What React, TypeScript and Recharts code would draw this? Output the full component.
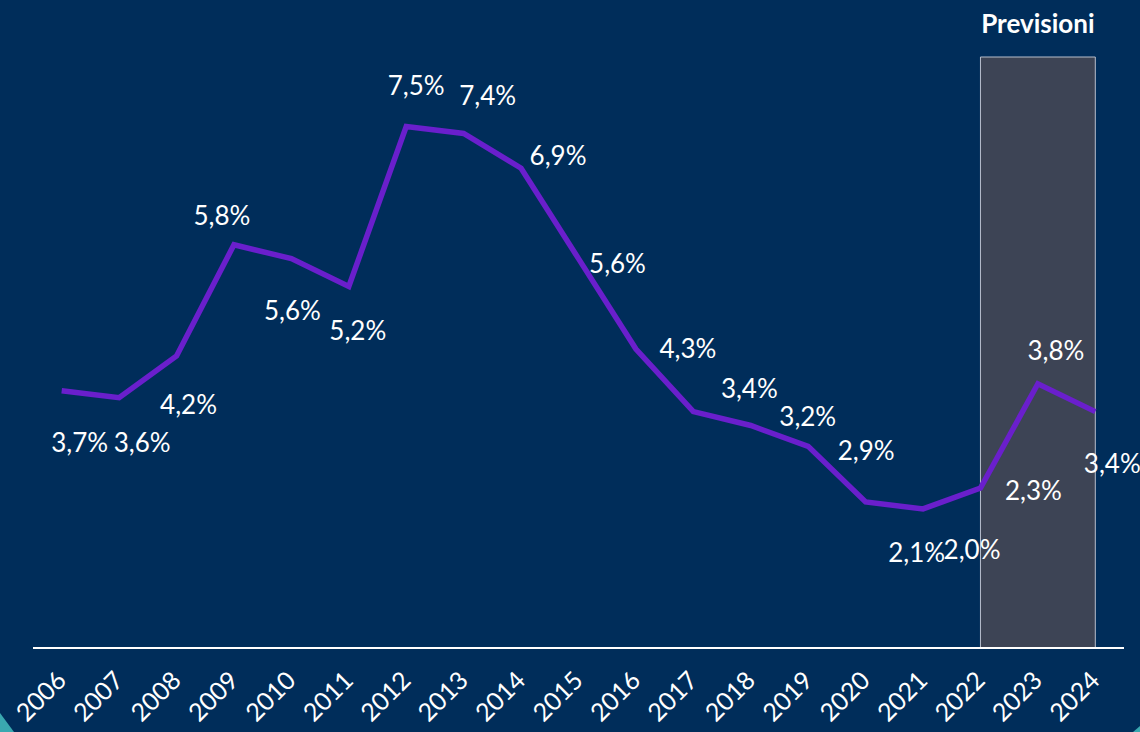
import { LineChart, Line, XAxis, YAxis, ReferenceArea, LabelList } from 'recharts';

const years = ['2006', '2007', '2008', '2009', '2010', '2011', '2012', '2013', '2014', '2015', '2016', '2017', '2018', '2019', '2020', '2021', '2022', '2023', '2024'];
const rates = [3.7, 3.6, 4.2, 5.8, 5.6, 5.2, 7.5, 7.4, 6.9, 5.6, 4.3, 3.4, 3.2, 2.9, 2.1, 2.0, 2.3, 3.8, 3.4];
const forecastStart = '2022';
const forecastEnd = '2024';
const forecastLabel = 'Previsioni';

// label placement relative to each point (dx, dy), as in the source slide
const labelOffsets: Array<[number, number]> = [
  [18, 51], [23, 44], [12, 48], [-12, -30], [1, 51], [9, 44], [10, -42], [24, -38], [37, -13], [39, 4],
  [52, -1], [56, -24], [57, -10], [58, 4], [51, 50], [49, 40], [53, 2], [18, -34], [17, 51],
];

const BG = '#002d5a';
const FONT = 'Lato, "Noto Sans", sans-serif';

const data = years.map((year, i) => ({ year, rate: rates[i] }));

const fmt = (v: number) => v.toFixed(1).replace('.', ',') + '%';

function YearTick(props: any) {
  const { x, y, payload } = props;
  const ax = x + 6;
  const ay = y + 26;
  return (
    <text
      x={ax}
      y={ay}
      transform={`rotate(-45, ${ax}, ${ay})`}
      textAnchor="end"
      fill="#ffffff"
      fontSize={25}
      fontFamily={FONT}
    >
      {payload.value}
    </text>
  );
}

function PointLabel(props: any) {
  const { x, y, value, index } = props;
  const [dx, dy] = labelOffsets[index] ?? [0, -20];
  return (
    <text
      x={x + dx}
      y={y + dy}
      textAnchor="middle"
      dominantBaseline="central"
      fill="#ffffff"
      fontSize={26}
      fontFamily={FONT}
    >
      {fmt(value)}
    </text>
  );
}

export default function App() {
  return (
    <div
      style={{
        position: 'absolute',
        left: 0,
        top: 0,
        width: 1140,
        height: 732,
        background: BG,
        overflow: 'hidden',
      }}
    >
      <LineChart width={1140} height={732} data={data} margin={{ top: 57, right: 16, left: 33, bottom: 4 }}>
        <ReferenceArea
          x1={forecastStart}
          x2={forecastEnd}
          fill="#3d4455"
          fillOpacity={1}
          stroke="#b8bfcc"
          strokeWidth={1}
          label={{
            value: forecastLabel,
            position: 'top',
            offset: 24,
            fill: '#ffffff',
            fontSize: 26,
            fontWeight: 700,
            fontFamily: FONT,
          }}
        />
        <XAxis
          dataKey="year"
          height={80}
          interval={0}
          padding={{ left: 28.7, right: 28.7 }}
          axisLine={{ stroke: '#ffffff', strokeWidth: 2 }}
          tickLine={false}
          tick={<YearTick />}
        />
        <YAxis hide domain={[0, 8.5]} />
        <Line
          type="linear"
          dataKey="rate"
          stroke="#6a1fcc"
          strokeWidth={5.5}
          dot={false}
          isAnimationActive={false}
        >
          <LabelList dataKey="rate" content={<PointLabel />} />
        </Line>
      </LineChart>
      <div
        style={{
          position: 'absolute',
          left: 0,
          top: 713,
          width: 14,
          height: 19,
          background: '#3aa8b0',
          clipPath: 'polygon(0 0, 100% 100%, 0 100%)',
        }}
      />
      <div
        style={{
          position: 'absolute',
          left: 1133,
          top: 726,
          width: 7,
          height: 6,
          background: '#3aa8b0',
          clipPath: 'polygon(100% 0, 100% 100%, 0 100%)',
        }}
      />
    </div>
  );
}
